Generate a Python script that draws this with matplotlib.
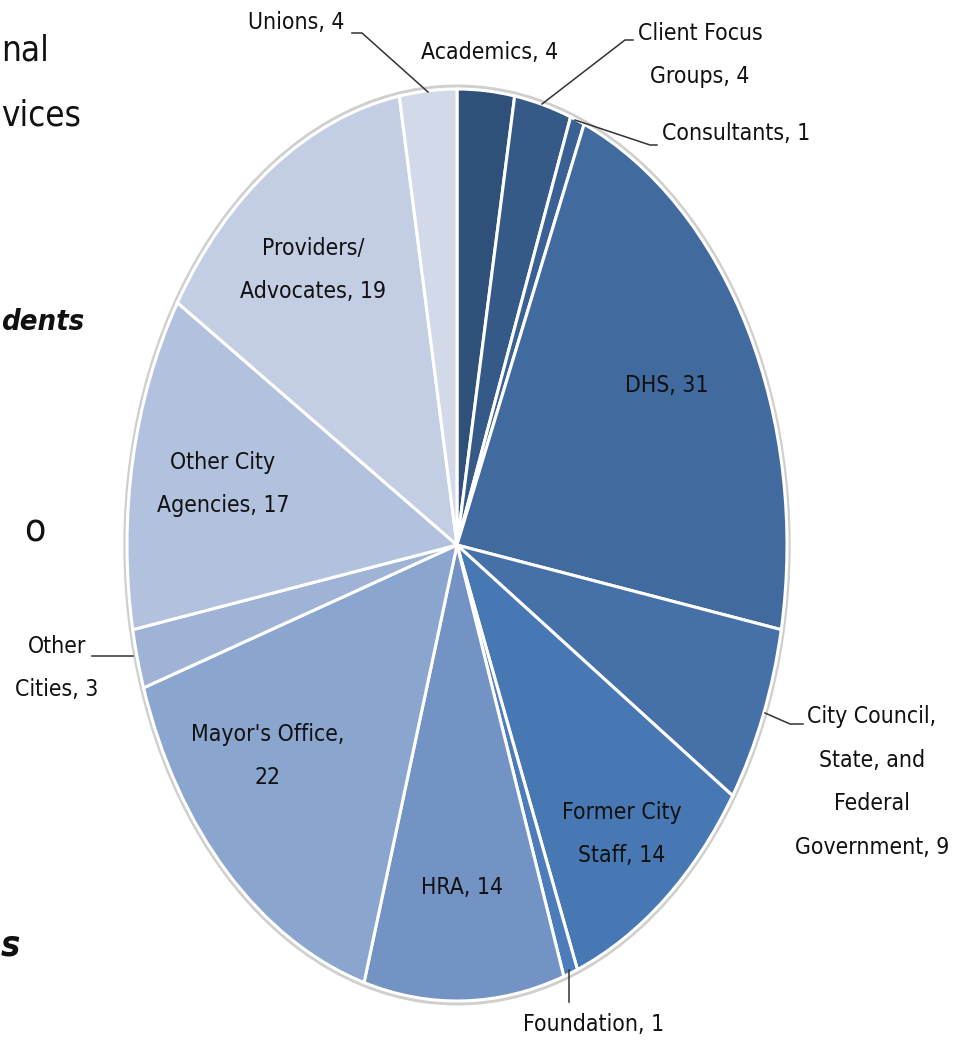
import matplotlib.pyplot as plt
from matplotlib.patches import Ellipse

# data, clockwise from 12 o'clock
groups = ["Academics", "Client Focus\nGroups", "Consultants", "DHS",
          "City Council,\nState, and\nFederal\nGovernment", "Former City\nStaff",
          "Foundation", "HRA", "Mayor's Office,\n", "Other\nCities",
          "Other City\nAgencies", "Providers/\nAdvocates", "Unions"]
counts = [4, 4, 1, 31, 9, 14, 1, 14, 22, 3, 17, 19, 4]
colors = ["#2F5179", "#355A87", "#3A6194", "#416A9E", "#4571A8", "#4878B3",
          "#4C7CBA", "#7393C5", "#8AA5CE", "#9FB3D6", "#B1C1DE", "#C3CEE4", "#D2D9E9"]
side_text = ["nal", "vices", "dents", "o", "s"]

W, H = 967, 1042
CX, CY, RX, RY = 457, 545, 330, 456   # pie centre / radii in pixels


def px(x, y):
    # pixel position -> data coords of the unit pie
    return (x - CX) / RX, (CY - y) / RY


fig = plt.figure(figsize=(W / 100, H / 100), dpi=100)
ax = fig.add_axes([0, 0, 1, 1])

ax.add_patch(Ellipse((0, 0), 2.012, 2.012, facecolor="none", edgecolor="#CFCFCF", lw=2.5, zorder=0))
ax.pie(counts, colors=colors, startangle=90, counterclock=False, radius=1,
       wedgeprops=dict(edgecolor="white", linewidth=2.2))
# stretch the pie into the tall ellipse of the original
ax.set_aspect("auto")
ax.set_xlim(-CX / RX, (W - CX) / RX)
ax.set_ylim(-(H - CY) / RY, CY / RY)
ax.axis("off")

font = dict(family="DejaVu Sans", fontstretch="condensed")

labels = [f"{g.rstrip()}, {c}" if not g.endswith("\n") else f"{g}{c}"
          for g, c in zip(groups, counts)]
# label centres in pixels
pos = {
    "Academics": (490, 52), "Client Focus\nGroups": (700, 55), "Consultants": (736, 133),
    "DHS": (667, 385), "City Council,\nState, and\nFederal\nGovernment": (872, 782),
    "Former City\nStaff": (622, 834), "Foundation": (594, 1025), "HRA": (462, 887),
    "Mayor's Office,\n": (268, 756), "Other\nCities": (57, 668),
    "Other City\nAgencies": (223, 484), "Providers/\nAdvocates": (313, 270),
    "Unions": (296, 22),
}
for g, lab in zip(groups, labels):
    x, y = px(*pos[g])
    ax.text(x, y, lab, ha="center", va="center", fontsize=16.5, color="#111111",
            linespacing=2.15, **font)

# leader lines (pixels)
leaders = [
    [(352, 33), (362, 33), (428, 92)],
    [(633, 40), (625, 40), (542, 104)],
    [(657, 145), (650, 145), (575, 120)],
    [(803, 724), (790, 724), (765, 713)],
    [(569, 970), (569, 1002)],
    [(92, 656), (133, 656)],
]
for pts in leaders:
    xs, ys = zip(*[px(a, b) for a, b in pts])
    ax.plot(xs, ys, color="#333333", lw=1.1)

# slide text peeking in on the left
side_pos = [(1, 50), (1, 115), (1, 322), (24, 530), (1, 945)]
side_size = [25, 25, 21, 28, 26]
for i, (t, (x, y)) in enumerate(zip(side_text, side_pos)):
    bold = i in (2, 4)
    ax.text(*px(x, y), t, ha="left", va="center", fontsize=side_size[i], color="#111111",
            fontweight="bold" if bold else "normal",
            fontstyle="italic" if bold else "normal", **font)

fig.savefig("out.png", dpi=100)
